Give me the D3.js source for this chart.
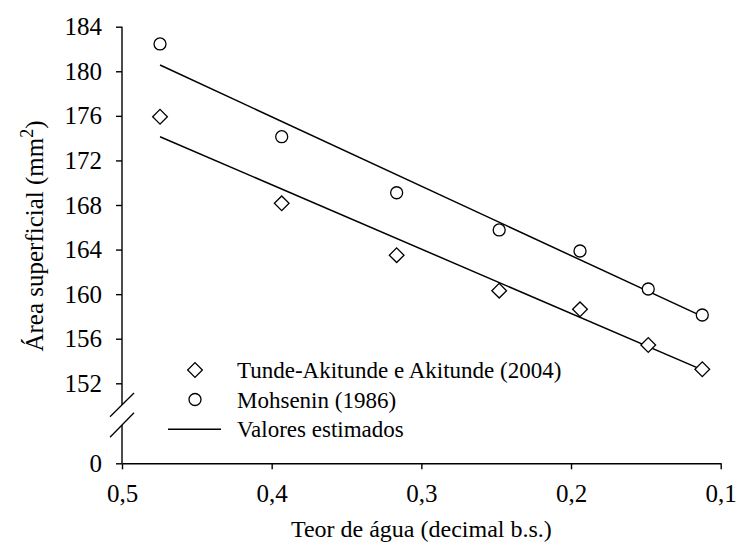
<!DOCTYPE html>
<html>
<head>
<meta charset="utf-8">
<script src="https://cdn.jsdelivr.net/npm/d3@7"></script>
<style>
  body { margin: 0; background: #fff; }
  text { font-family: 'Liberation Serif', 'Times New Roman', serif; fill: #000; }
</style>
</head>
<body>
<div id="chart"></div>
<script>
// moisture content (decimal d.b.)
const teorAgua = [0.4746, 0.3933, 0.3165, 0.248, 0.194, 0.1484, 0.1123];
// surface area (mm2)
const tundeAkitunde = [175.92, 168.15, 163.5, 160.31, 158.64, 155.44, 153.26];
const mohsenin = [182.45, 174.13, 169.1, 165.76, 163.87, 160.46, 158.13];
// estimated lines (end points)
const estX = [0.4746, 0.1123];
const estTunde = [174.13, 153.2];
const estMohsenin = [180.56, 158.0];

const xTicks = [0.5, 0.4, 0.3, 0.2, 0.1];
const yTicks = [0, 152, 156, 160, 164, 168, 172, 176, 180, 184];
const legendLabels = ['Tunde-Akitunde e Akitunde (2004)', 'Mohsenin (1986)', 'Valores estimados'];

const width = 737, height = 557;

const svg = d3.select('#chart')
    .append('svg')
    .attr('width', width)
    .attr('height', height);

// scales (broken y axis: 0 then 152..184)
const x = d3.scaleLinear().domain([0.5, 0.1]).range([122, 720.7]);
const y = d3.scaleLinear().domain([0, 152, 184]).range([463.3, 383.3, 26.7]);

const fmt = d => String(d).replace('.', ',');

// x axis
const xAxis = svg.append('g')
    .attr('transform', `translate(0,${y(0)})`)
    .call(d3.axisBottom(x).tickValues(xTicks).tickSize(6).tickSizeOuter(0).tickFormat(fmt).tickPadding(15));
xAxis.select('.domain').attr('stroke-width', 1.4);
xAxis.selectAll('.tick line').attr('stroke-width', 1.4);
xAxis.selectAll('text').attr('font-size', 25);

// y axis
const yAxis = svg.append('g')
    .attr('transform', `translate(${x(0.5)},0)`)
    .call(d3.axisLeft(y).tickValues(yTicks).tickSize(6).tickFormat(d3.format('d')).tickPadding(14));
yAxis.select('.domain').remove();
yAxis.selectAll('.tick line').attr('stroke-width', 1.4);
yAxis.selectAll('text').attr('font-size', 25);

// y axis line with gap
const axX = x(0.5);
svg.append('line')
    .attr('x1', axX).attr('x2', axX)
    .attr('y1', y(184)).attr('y2', 405)
    .attr('stroke', '#000').attr('stroke-width', 1.4);
svg.append('line')
    .attr('x1', axX).attr('x2', axX)
    .attr('y1', 425).attr('y2', y(0))
    .attr('stroke', '#000').attr('stroke-width', 1.4);

// break marks
[[416.7, 393], [437.3, 412.7]].forEach(function (b) {
    svg.append('line')
        .attr('x1', axX - 12).attr('y1', b[0])
        .attr('x2', axX + 12).attr('y2', b[1])
        .attr('stroke', '#000').attr('stroke-width', 1.3);
});

// estimated lines
const line = d3.line()
    .x(function (d) { return x(d[0]); })
    .y(function (d) { return y(d[1]); });

[estTunde, estMohsenin].forEach(function (s) {
    svg.append('path')
        .datum(estX.map(function (v, i) { return [v, s[i]]; }))
        .attr('d', line)
        .attr('fill', 'none')
        .attr('stroke', '#000')
        .attr('stroke-width', 1.5);
});

// markers
const diamond = d3.symbol().type(d3.symbolSquare).size(108);

svg.selectAll('.diamond')
    .data(teorAgua.map(function (v, i) { return [v, tundeAkitunde[i]]; }))
    .enter()
    .append('path')
    .attr('class', 'diamond')
    .attr('d', diamond)
    .attr('transform', function (d) { return `translate(${x(d[0])},${y(d[1])}) rotate(45)`; })
    .attr('fill', '#fff')
    .attr('stroke', '#000')
    .attr('stroke-width', 1.3);

svg.selectAll('.circ')
    .data(teorAgua.map(function (v, i) { return [v, mohsenin[i]]; }))
    .enter()
    .append('circle')
    .attr('class', 'circ')
    .attr('cx', function (d) { return x(d[0]); })
    .attr('cy', function (d) { return y(d[1]); })
    .attr('r', 6)
    .attr('fill', '#fff')
    .attr('stroke', '#000')
    .attr('stroke-width', 1.3);

// legend
const lg = svg.append('g');
const rows = [370, 399.5, 429.3];
lg.append('path')
    .attr('d', diamond)
    .attr('transform', `translate(195,${rows[0]}) rotate(45)`)
    .attr('fill', '#fff').attr('stroke', '#000').attr('stroke-width', 1.3);
lg.append('circle')
    .attr('cx', 195).attr('cy', rows[1]).attr('r', 6)
    .attr('fill', '#fff').attr('stroke', '#000').attr('stroke-width', 1.3);
lg.append('line')
    .attr('x1', 168).attr('x2', 221)
    .attr('y1', rows[2]).attr('y2', rows[2])
    .attr('stroke', '#000').attr('stroke-width', 1.5);
lg.selectAll('text')
    .data(legendLabels)
    .enter()
    .append('text')
    .attr('x', 237)
    .attr('y', function (d, i) { return rows[i]; })
    .attr('dy', '0.35em')
    .attr('font-size', 23)
    .text(function (d) { return d; });

// axis titles
svg.append('text')
    .attr('x', (x(0.5) + x(0.1)) / 2)
    .attr('y', 537)
    .attr('text-anchor', 'middle')
    .attr('font-size', 24)
    .text('Teor de água (decimal b.s.)');

const yt = svg.append('text')
    .attr('transform', 'translate(43,236) rotate(-90)')
    .attr('text-anchor', 'middle')
    .attr('font-size', 25);
yt.append('tspan').text('Área superficial (mm');
yt.append('tspan').attr('dy', -10).attr('font-size', 18).text('2');
yt.append('tspan').attr('dy', 10).text(')');
</script>
</body>
</html>
